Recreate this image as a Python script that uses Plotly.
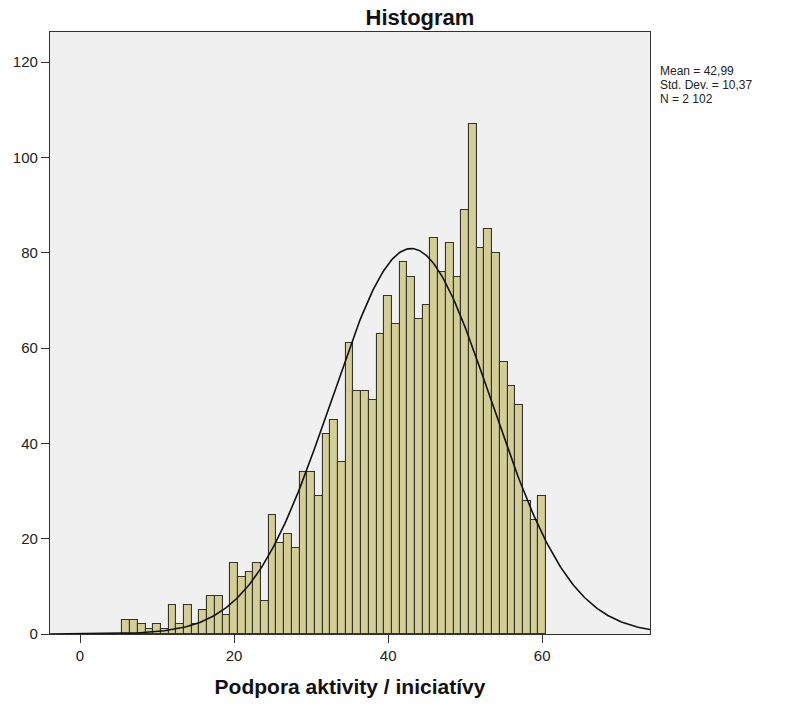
import numpy as np
import plotly.graph_objects as go

# Data
values = list(range(6, 61))
counts = [3, 3, 2, 1, 2, 1, 6, 2, 6, 2, 5, 8, 8, 4,          # 6-19
          15, 12, 13, 15, 7, 25, 19, 21, 18, 34, 34, 29,      # 20-31
          42, 45, 36, 61, 51, 51, 49, 63, 71, 65, 78, 75, 66, 69,  # 32-45
          83, 76, 82, 75, 89, 107, 81, 85, 80, 57, 52, 48, 28, 24, 29]  # 46-60

stat_mean = 42.99
stat_sd = 10.37
stat_n = 2102
stat_labels = ["Mean = 42,99", "Std. Dev. = 10,37", "N = 2 102"]

x_ticks = [0, 20, 40, 60]
y_ticks = [0, 20, 40, 60, 80, 100, 120]

FONT = "Arial, Liberation Sans, sans-serif"

W, H = 785, 706
ML, MR, MT, MB = 50, 135, 32, 72

X_RANGE = [-3.9, 74.0]
Y_RANGE = [0, 126.3]

# Normal curve implied by the displayed statistics (bin width 1)
xc = np.linspace(X_RANGE[0], X_RANGE[1], 400)
yc = stat_n * 1.0 / (stat_sd * np.sqrt(2 * np.pi)) * np.exp(-0.5 * ((xc - stat_mean) / stat_sd) ** 2)

fig = go.Figure()
fig.add_trace(go.Bar(
    x=values, y=counts, width=1.0,
    marker=dict(color="#D3CE97", line=dict(color="#35342a", width=1.1)),
    showlegend=False, hoverinfo="x+y",
))
fig.add_trace(go.Scatter(
    x=xc, y=yc, mode="lines",
    line=dict(color="#111111", width=1.6),
    showlegend=False, hoverinfo="skip",
))

for i, t in enumerate(stat_labels):
    fig.add_annotation(
        text=t, xref="paper", yref="paper",
        x=1.0, xanchor="left", xshift=8,
        y=1.0, yanchor="top", yshift=-30 - 14 * i,
        showarrow=False, align="left",
        font=dict(family=FONT, size=12, color="#222222"),
    )

fig.update_layout(
    width=W, height=H,
    margin=dict(l=ML, r=MR, t=MT, b=MB),
    paper_bgcolor="white",
    plot_bgcolor="#F0F0F0",
    bargap=0,
    title=dict(text="<b>Histogram</b>", x=420 / W, xanchor="center",
               y=1 - 17 / H, yanchor="middle",
               font=dict(family=FONT, size=22, color="#111111")),
    font=dict(family=FONT, size=15, color="#222222"),
)
fig.update_xaxes(
    range=X_RANGE, tickvals=x_ticks, ticktext=[str(v) for v in x_ticks],
    ticks="outside", ticklen=8, tickcolor="#333333",
    showline=True, linecolor="#333333", linewidth=1.2, mirror=True,
    showgrid=False, zeroline=False,
    title=dict(text="<b>Podpora aktivity / iniciatívy</b>", standoff=16,
               font=dict(family=FONT, size=21, color="#111111")),
    tickfont=dict(family=FONT, size=15, color="#222222"),
)
fig.update_yaxes(
    range=Y_RANGE, tickvals=y_ticks, ticktext=[str(v) for v in y_ticks],
    ticks="outside", ticklen=8, tickcolor="#333333",
    showline=True, linecolor="#333333", linewidth=1.2, mirror=True,
    showgrid=False, zeroline=False,
    tickfont=dict(family=FONT, size=15, color="#222222"),
)

fig.write_html("out.html", config={"displayModeBar": False},
               post_script="document.body.style.margin='0';")
